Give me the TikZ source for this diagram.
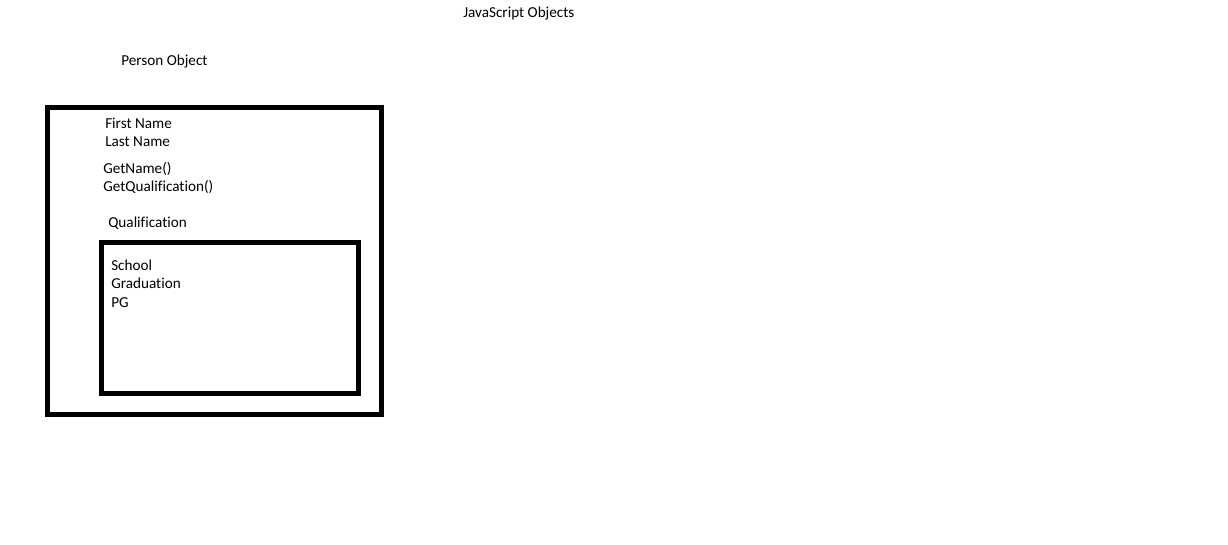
\documentclass[tikz,border=0pt]{standalone}
\usepackage{fontspec}
\setmainfont[Ligatures=NoCommon]{Carlito}
\begin{document}
\begin{tikzpicture}[x=0.75pt,y=-0.75pt,
  lbl/.style={anchor=base west,inner sep=0pt,font=\fontsize{11.4pt}{13.5pt}\selectfont,text=black},
  boxline/.style={draw=black,line width=3.75pt}]
\useasboundingbox (0,0) rectangle (1228,545);
\fill[white] (0,0) rectangle (1228,545);
\node[lbl] (title) at (463,18) {JavaScript Objects};
\node[lbl] (person) at (121,66) {Person Object};
\draw[boxline] (47.5,107.5) rectangle (381,414.5);
\node[lbl] (first) at (105,129) {First Name};
\node[lbl] (last) at (105,147) {Last Name};
\node[lbl] (getname) at (103,174) {GetName()};
\node[lbl] (getqual) at (103,192) {GetQualification()};
\node[lbl] (qual) at (108,228) {Qualification};
\draw[boxline] (101.5,242.5) rectangle (358.5,393.5);
\node[lbl] (school) at (111,271) {School};
\node[lbl] (grad) at (111,289) {Graduation};
\node[lbl] (pg) at (111,307) {PG};
\end{tikzpicture}
\end{document}
